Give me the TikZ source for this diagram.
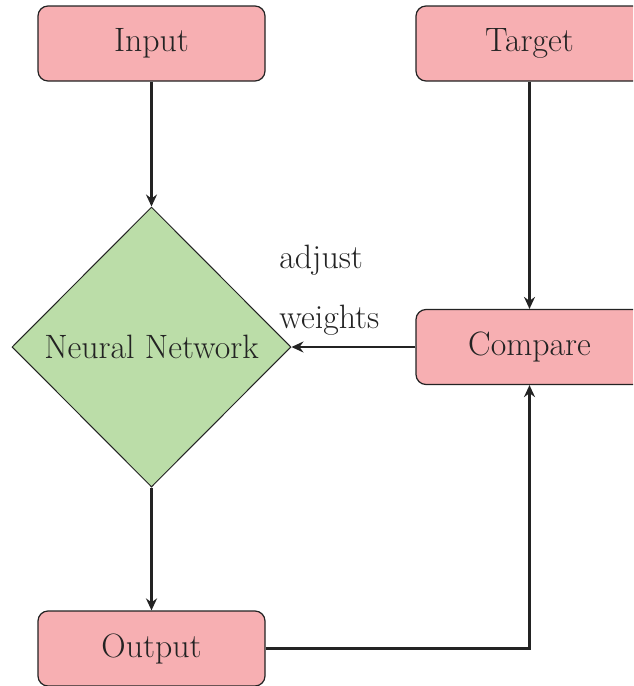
\documentclass[tikz,border=0pt]{standalone}
\usetikzlibrary{arrows.meta,shapes.geometric}
\definecolor{boxpink}{RGB}{247,175,178}
\definecolor{netgreen}{RGB}{187,221,168}
\definecolor{ink}{RGB}{35,35,35}
\tikzset{
  flowbox/.style={draw=ink, line width=0.6pt, fill=boxpink, rounded corners=5pt,
    minimum width=113.5pt, minimum height=37.5pt, inner sep=0pt, text=ink,
    font=\fontsize{16.9}{20}\selectfont},
  netnode/.style={draw=ink, line width=0.5pt, fill=netgreen, diamond, aspect=1,
    minimum width=139.5pt, minimum height=140pt, inner sep=0pt, text=ink,
    font=\fontsize{16.9}{20}\selectfont},
  flow/.style={draw=ink, line width=1.1pt, -{Stealth[length=6pt,width=5.5pt,inset=2pt]}},
  note/.style={text=ink, font=\fontsize{16.9}{20}\selectfont, inner sep=0pt}
}
\begin{document}
\begin{tikzpicture}[x=0.5pt,y=-0.5pt]
  \useasboundingbox (0,0) rectangle (633,686);
  \begin{scope}
  \clip (0,0) rectangle (633,686);
  \node[flowbox] (input)   at (151.5,43.5)  {Input};
  \node[flowbox] (target)  at (529.5,43.5)  {Target};
  \node[netnode] (net)     at (151.5,347)   {Neural Network};
  \node[flowbox] (compare) at (529.5,347)   {Compare};
  \node[flowbox] (output)  at (151.5,648.5) {Output};

  \draw[flow] (input.south) -- (net.north);
  \draw[flow] (target.south) -- (compare.north);
  \draw[flow] (compare.west) -- (net.east);
  \draw[flow] (net.south) -- (output.north);
  \draw[flow] (output.east) -| (compare.south);

  \node[note, anchor=base west] (adj) at (279,268) {adjust};
  \node[note, anchor=base west] (wts) at (279,328) {weights};
  \end{scope}
\end{tikzpicture}
\end{document}
